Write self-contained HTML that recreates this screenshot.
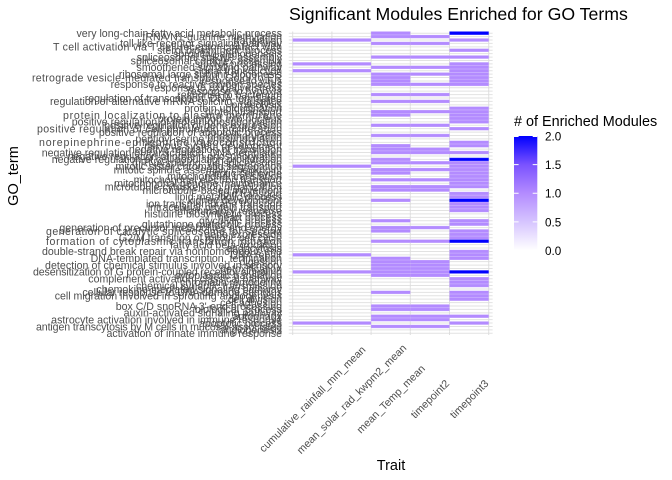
<!DOCTYPE html>
<html><head><meta charset="utf-8"><style>html,body{margin:0;padding:0;background:#fff}svg{display:block}</style></head>
<body>
<svg width="672" height="480" viewBox="0 0 672 480" xmlns="http://www.w3.org/2000/svg" font-family="'Liberation Sans', Arial, sans-serif">
<defs>
<linearGradient id="lg" x1="0" y1="1" x2="0" y2="0">
<stop offset="0" stop-color="#ffffff"/><stop offset="0.25" stop-color="#d6c5ff"/><stop offset="0.5" stop-color="#b38bff"/><stop offset="0.75" stop-color="#7a52ff"/><stop offset="1" stop-color="#0000ff"/>
</linearGradient>
</defs>
<rect width="672" height="480" fill="#fff"/>
<text x="289" y="20" font-size="17.7" fill="#000">Significant Modules Enriched for GO Terms</text>

<g transform="translate(292.7,31.5) scale(39.2,3.41)">
<path vector-effect="non-scaling-stroke" stroke="#e2e2e2" stroke-width="1" fill="none" d="M-.1 .5H5.1M-.1 1.5H5.1M-.1 2.5H5.1M-.1 3.5H5.1M-.1 4.5H5.1M-.1 5.5H5.1M-.1 6.5H5.1M-.1 7.5H5.1M-.1 8.5H5.1M-.1 9.5H5.1M-.1 10.5H5.1M-.1 11.5H5.1M-.1 12.5H5.1M-.1 13.5H5.1M-.1 14.5H5.1M-.1 15.5H5.1M-.1 16.5H5.1M-.1 17.5H5.1M-.1 18.5H5.1M-.1 19.5H5.1M-.1 20.5H5.1M-.1 21.5H5.1M-.1 22.5H5.1M-.1 23.5H5.1M-.1 24.5H5.1M-.1 25.5H5.1M-.1 26.5H5.1M-.1 27.5H5.1M-.1 28.5H5.1M-.1 29.5H5.1M-.1 30.5H5.1M-.1 31.5H5.1M-.1 32.5H5.1M-.1 33.5H5.1M-.1 34.5H5.1M-.1 35.5H5.1M-.1 36.5H5.1M-.1 37.5H5.1M-.1 38.5H5.1M-.1 39.5H5.1M-.1 40.5H5.1M-.1 41.5H5.1M-.1 42.5H5.1M-.1 43.5H5.1M-.1 44.5H5.1M-.1 45.5H5.1M-.1 46.5H5.1M-.1 47.5H5.1M-.1 48.5H5.1M-.1 49.5H5.1M-.1 50.5H5.1M-.1 51.5H5.1M-.1 52.5H5.1M-.1 53.5H5.1M-.1 54.5H5.1M-.1 55.5H5.1M-.1 56.5H5.1M-.1 57.5H5.1M-.1 58.5H5.1M-.1 59.5H5.1M-.1 60.5H5.1M-.1 61.5H5.1M-.1 62.5H5.1M-.1 63.5H5.1M-.1 64.5H5.1M-.1 65.5H5.1M-.1 66.5H5.1M-.1 67.5H5.1M-.1 68.5H5.1M-.1 69.5H5.1M-.1 70.5H5.1M-.1 71.5H5.1M-.1 72.5H5.1M-.1 73.5H5.1M-.1 74.5H5.1M-.1 75.5H5.1M-.1 76.5H5.1M-.1 77.5H5.1M-.1 78.5H5.1M-.1 79.5H5.1M-.1 80.5H5.1M-.1 81.5H5.1M-.1 82.5H5.1M-.1 83.5H5.1M-.1 84.5H5.1M-.1 85.5H5.1M-.1 86.5H5.1M-.1 87.5H5.1M-.1 88.5H5.1"/>
<path vector-effect="non-scaling-stroke" stroke="#dedede" stroke-width="1" fill="none" d="M0 0V89M1 0V89M2 0V89M3 0V89M4 0V89M5 0V89"/>
<g fill="#b38bff">
<rect x="0" y="2" width="2" height="1"/><rect x="0" y="9" width="2" height="1"/><rect x="0" y="11" width="2" height="1"/><rect x="0" y="39" width="2" height="1"/><rect x="0" y="65" width="2" height="1"/><rect x="0" y="70" width="2" height="1"/><rect x="0" y="85" width="2" height="1"/>
<rect x="2" y="0" width="1" height="2"/><rect x="2" y="3" width="1" height="1"/><rect x="2" y="7" width="1" height="1"/><rect x="2" y="10" width="1" height="1"/><rect x="2" y="12" width="1" height="4"/><rect x="2" y="18" width="1" height="1"/><rect x="2" y="20" width="1" height="1"/><rect x="2" y="23" width="1" height="2"/><rect x="2" y="27" width="1" height="1"/><rect x="2" y="30" width="1" height="1"/><rect x="2" y="33" width="1" height="3"/><rect x="2" y="37" width="1" height="2"/><rect x="2" y="40" width="1" height="2"/><rect x="2" y="43" width="1" height="1"/><rect x="2" y="45" width="1" height="2"/><rect x="2" y="49" width="1" height="1"/><rect x="2" y="55" width="1" height="1"/><rect x="2" y="57" width="1" height="2"/><rect x="2" y="61" width="1" height="1"/><rect x="2" y="66" width="1" height="6"/><rect x="2" y="76" width="1" height="1"/><rect x="2" y="80" width="1" height="2"/><rect x="2" y="83" width="1" height="2"/><rect x="2" y="86" width="1" height="1"/>
<rect x="3" y="1" width="1" height="1"/><rect x="3" y="3" width="1" height="1"/><rect x="3" y="7" width="1" height="1"/><rect x="3" y="10" width="1" height="1"/><rect x="3" y="12" width="1" height="1"/><rect x="3" y="15" width="1" height="1"/><rect x="3" y="18" width="1" height="1"/><rect x="3" y="20" width="1" height="1"/><rect x="3" y="23" width="1" height="1"/><rect x="3" y="27" width="1" height="1"/><rect x="3" y="30" width="1" height="1"/><rect x="3" y="34" width="1" height="2"/><rect x="3" y="38" width="1" height="1"/><rect x="3" y="40" width="1" height="1"/><rect x="3" y="43" width="1" height="1"/><rect x="3" y="45" width="1" height="2"/><rect x="3" y="57" width="1" height="1"/><rect x="3" y="61" width="1" height="1"/><rect x="3" y="67" width="1" height="5"/><rect x="3" y="80" width="1" height="2"/><rect x="3" y="83" width="1" height="2"/><rect x="3" y="86" width="1" height="1"/>
<rect x="4" y="2" width="1" height="1"/><rect x="4" y="5" width="1" height="1"/><rect x="4" y="7" width="1" height="1"/><rect x="4" y="9" width="1" height="7"/><rect x="4" y="22" width="1" height="5"/><rect x="4" y="28" width="1" height="1"/><rect x="4" y="32" width="1" height="2"/><rect x="4" y="35" width="1" height="1"/><rect x="4" y="38" width="1" height="8"/><rect x="4" y="47" width="1" height="2"/><rect x="4" y="50" width="1" height="3"/><rect x="4" y="55" width="1" height="2"/><rect x="4" y="58" width="1" height="3"/><rect x="4" y="64" width="1" height="3"/><rect x="4" y="72" width="1" height="3"/><rect x="4" y="76" width="1" height="3"/><rect x="4" y="83" width="1" height="1"/><rect x="4" y="85" width="1" height="1"/>
</g>
<g fill="#0000ff">
<rect x="4" y="0" width="1" height="1"/><rect x="4" y="37" width="1" height="1"/><rect x="4" y="49" width="1" height="1"/><rect x="4" y="61" width="1" height="1"/><rect x="4" y="70" width="1" height="1"/>
</g>
<path vector-effect="non-scaling-stroke" stroke="#ffffff" stroke-opacity="0.3" stroke-width="0.8" fill="none" d="M0 1H5M0 2H5M0 3H5M0 4H5M0 5H5M0 6H5M0 7H5M0 8H5M0 9H5M0 10H5M0 11H5M0 12H5M0 13H5M0 14H5M0 15H5M0 16H5M0 17H5M0 18H5M0 19H5M0 20H5M0 21H5M0 22H5M0 23H5M0 24H5M0 25H5M0 26H5M0 27H5M0 28H5M0 29H5M0 30H5M0 31H5M0 32H5M0 33H5M0 34H5M0 35H5M0 36H5M0 37H5M0 38H5M0 39H5M0 40H5M0 41H5M0 42H5M0 43H5M0 44H5M0 45H5M0 46H5M0 47H5M0 48H5M0 49H5M0 50H5M0 51H5M0 52H5M0 53H5M0 54H5M0 55H5M0 56H5M0 57H5M0 58H5M0 59H5M0 60H5M0 61H5M0 62H5M0 63H5M0 64H5M0 65H5M0 66H5M0 67H5M0 68H5M0 69H5M0 70H5M0 71H5M0 72H5M0 73H5M0 74H5M0 75H5M0 76H5M0 77H5M0 78H5M0 79H5M0 80H5M0 81H5M0 82H5M0 83H5M0 84H5M0 85H5M0 86H5M0 87H5M0 88H5"/>
</g>

<g font-size="10.6" fill="#4d4d4d" text-anchor="end">
<text x="282" y="37.0">very long-chain fatty acid metabolic process</text>
<text x="282" y="40.41">tRNA N1-guanine methylation</text>
<text x="282" y="43.82">translation</text>
<text x="282" y="47.23">toll-like receptor signaling pathway</text>
<text x="282" y="50.64" textLength="229" lengthAdjust="spacing">T cell activation via T cell receptor contact with</text>
<text x="282" y="54.05">sterol biosynthetic process</text>
<text x="282" y="57.46">sprouting angiogenesis</text>
<text x="282" y="60.87">spliceosomal snRNP assembly</text>
<text x="282" y="64.28">spliceosomal complex assembly</text>
<text x="282" y="67.69">snRNA processing</text>
<text x="282" y="71.10">smoothened signaling pathway</text>
<text x="282" y="74.51">signal transduction</text>
<text x="282" y="77.92">ribosomal large subunit biogenesis</text>
<text x="282" y="81.33" textLength="250" lengthAdjust="spacing">retrograde vesicle-mediated transport, Golgi to ER</text>
<text x="282" y="84.74">response to virus</text>
<text x="282" y="88.15">response to reactive oxygen species</text>
<text x="282" y="91.56">response to oxidative stress</text>
<text x="282" y="94.97">response to hypoxia</text>
<text x="282" y="98.38">response to bacterium</text>
<text x="282" y="101.79">regulation of transcription, DNA-templated</text>
<text x="282" y="105.20" textLength="232" lengthAdjust="spacing">regulation of alternative mRNA splicing, via splice</text>
<text x="282" y="108.61">proteolysis</text>
<text x="282" y="112.02">protein ubiquitination</text>
<text x="282" y="115.43">protein transport</text>
<text x="282" y="118.84" textLength="219" lengthAdjust="spacing">protein localization to plasma membrane</text>
<text x="282" y="122.25">protein import into nucleus</text>
<text x="282" y="125.66">positive regulation of protein phosphorylation</text>
<text x="282" y="129.07">positive regulation of gene expression</text>
<text x="282" y="132.48" textLength="245" lengthAdjust="spacing">positive regulation of cell population proliferation</text>
<text x="282" y="135.89">positive regulation of apoptotic process</text>
<text x="282" y="139.30">phosphorylation</text>
<text x="282" y="142.71">peptidyl-serine phosphorylation</text>
<text x="282" y="146.12" textLength="243" lengthAdjust="spacing">norepinephrine-epinephrine vasoconstriction</text>
<text x="282" y="149.53">nervous system development</text>
<text x="282" y="152.94">negative regulation of translation</text>
<text x="282" y="156.35">negative regulation of transcription, DNA-templated</text>
<text x="282" y="159.76">negative regulation of protein phosphorylation</text>
<text x="282" y="163.17">negative regulation of cell population proliferation</text>
<text x="282" y="166.58">mRNA splicing, via spliceosome</text>
<text x="282" y="169.99">mitotic sister chromatid segregation</text>
<text x="282" y="173.40">mitotic spindle assembly checkpoint</text>
<text x="282" y="176.81">mitotic cell cycle</text>
<text x="282" y="180.22">mitochondrial translation</text>
<text x="282" y="183.63">mitochondrial electron transport</text>
<text x="282" y="187.04">mitochondrial genome maintenance</text>
<text x="282" y="190.45">microtubule cytoskeleton organization</text>
<text x="282" y="193.86">microtubule-based movement</text>
<text x="282" y="197.27">lipid transport</text>
<text x="282" y="200.68">lipid metabolic process</text>
<text x="282" y="204.09">kidney development</text>
<text x="282" y="207.50">ion transmembrane transport</text>
<text x="282" y="210.91">intracellular protein transport</text>
<text x="282" y="214.32">inflammatory response</text>
<text x="282" y="217.73">histidine biosynthetic process</text>
<text x="282" y="221.14">heart process</text>
<text x="282" y="224.55">glycolytic process</text>
<text x="282" y="227.96">glutathione metabolic process</text>
<text x="282" y="231.37">generation of precursor metabolites and energy</text>
<text x="282" y="234.78" textLength="236" lengthAdjust="spacing">generation of catalytic spliceosome for second</text>
<text x="282" y="238.19">gene expression</text>
<text x="282" y="241.60">G2/M transition of mitotic cell cycle</text>
<text x="282" y="245.01" textLength="236" lengthAdjust="spacing">formation of cytoplasmic translation initiation</text>
<text x="282" y="248.42">fatty acid beta-oxidation</text>
<text x="282" y="251.83">endocytosis</text>
<text x="282" y="255.24" textLength="240" lengthAdjust="spacing">double-strand break repair via nonhomologous end</text>
<text x="282" y="258.65">DNA repair</text>
<text x="282" y="262.06">DNA-templated transcription, termination</text>
<text x="282" y="265.47">digestion</text>
<text x="282" y="268.88" textLength="237" lengthAdjust="spacing">detection of chemical stimulus involved in sensory</text>
<text x="282" y="272.29">detoxification</text>
<text x="282" y="275.70" textLength="249" lengthAdjust="spacing">desensitization of G protein-coupled receptor signaling</text>
<text x="282" y="279.11">cytoplasmic translation</text>
<text x="282" y="282.52">complement activation, classical pathway</text>
<text x="282" y="285.93">chromatin remodeling</text>
<text x="282" y="289.34">chemical synaptic transmission</text>
<text x="282" y="292.75">chemokine-mediated signaling pathway</text>
<text x="282" y="296.16">cellular response to DNA damage stimulus</text>
<text x="282" y="299.57">cell migration involved in sprouting angiogenesis</text>
<text x="282" y="302.98">cell division</text>
<text x="282" y="306.39">cell adhesion</text>
<text x="282" y="309.80">box C/D snoRNA 3'-end processing</text>
<text x="282" y="313.21">biological_process</text>
<text x="282" y="316.62">auxin-activated signaling pathway</text>
<text x="282" y="320.03">autophagy</text>
<text x="282" y="323.44">astrocyte activation involved in immune response</text>
<text x="282" y="326.85">apoptotic process</text>
<text x="282" y="330.26" textLength="246" lengthAdjust="spacing">antigen transcytosis by M cells in mucosal-associated</text>
<text x="282" y="333.67">angiogenesis</text>
<text x="282" y="337.08">activation of innate immune response</text>
</g>

<g font-size="10.7" fill="#4d4d4d" text-anchor="middle">
<text transform="translate(312.3,399) rotate(-45)" y="3.7">cumulative_rainfall_mm_mean</text>
<text transform="translate(351.5,399) rotate(-45)" y="3.7">mean_solar_rad_kwpm2_mean</text>
<text transform="translate(390.7,399) rotate(-45)" y="3.7">mean_Temp_mean</text>
<text transform="translate(429.9,399) rotate(-45)" y="3.7">timepoint2</text>
<text transform="translate(469.1,399) rotate(-45)" y="3.7">timepoint3</text>
</g>

<text x="391" y="470" font-size="14.5" fill="#000" text-anchor="middle">Trait</text>
<text transform="translate(18,176) rotate(-90)" font-size="14.5" fill="#000" text-anchor="middle">GO_term</text>

<text x="514" y="126" font-size="14.4" fill="#000"># of Enriched Modules</text>
<rect x="514" y="136" width="23.3" height="114.5" fill="url(#lg)"/>
<path stroke="#ffffff" stroke-width="1" d="M514 164.6H518.6M532.7 164.6H537.3M514 193.2H518.6M532.7 193.2H537.3M514 221.9H518.6M532.7 221.9H537.3M514 250H518.6M532.7 250H537.3M514 136.5H518.6M532.7 136.5H537.3"/>
<g font-size="11.7" fill="#000">
<text x="545" y="140.5">2.0</text>
<text x="545" y="169">1.5</text>
<text x="545" y="197.6">1.0</text>
<text x="545" y="226.3">0.5</text>
<text x="545" y="254.9">0.0</text>
</g>
</svg>
</body></html>
